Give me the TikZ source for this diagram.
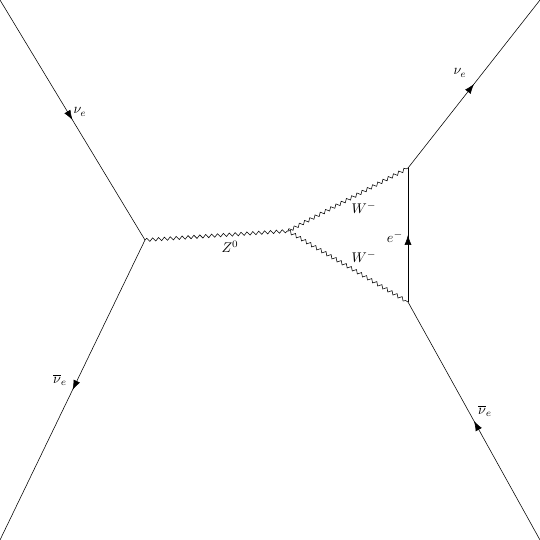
\documentclass[tikz,border=0pt]{standalone}
\usetikzlibrary{decorations.pathmorphing,decorations.markings,arrows.meta}

\begin{document}
\begin{tikzpicture}[
        fermion/.style={postaction={decorate},
            decoration={markings, mark=at position 0.5 with {\arrow{Latex[length=7pt, width=5pt]}}}},
        boson/.style={decorate,
            decoration={snake, segment length=4.2pt, amplitude=1.2pt}}
    ]
            \useasboundingbox (0, 0) rectangle (13.5, -13.5);

            \coordinate (a1) at (0, 0);
            \coordinate (a2) at (0, -13.5);
            \coordinate (b1) at (13.5, 0);
            \coordinate (b2) at (13.5, -13.5);
            \coordinate (v1) at (3.625, -6);
            \coordinate (v2) at (7.2, -5.775);
            \coordinate (v3) at (10.2, -4.2);
            \coordinate (v4) at (10.2, -7.55);

            \node (nu1) at (2.0, -2.8) {$\nu_e$};
            \node (nubar1) at (1.5, -9.5) {$\overline{\nu}_e$};
            \node (nu2) at (11.5, -1.825) {$\nu_e$};
            \node (nubar2) at (12.125, -10.275) {$\overline{\nu}_e$};
            \node (z) at (5.75, -6.175) {$Z^0$};
            \node (w1) at (9.1, -5.2) {$W^-$};
            \node (w2) at (9.1, -6.425) {$W^-$};
            \node (e) at (9.875, -5.925) {$e^-$};

            \draw[fermion] (a1) -- (v1);
            \draw[fermion] (v1) -- (a2);
            \draw[fermion] (v3) -- (b1);
            \draw[fermion] (b2) -- (v4);
            \draw[fermion] (v4) -- (v3);
            \draw[boson] (v1) -- (v2);
            \draw[boson] (v2) -- (v3);
            \draw[boson] (v2) -- (v4);
        \end{tikzpicture}
\end{document}
